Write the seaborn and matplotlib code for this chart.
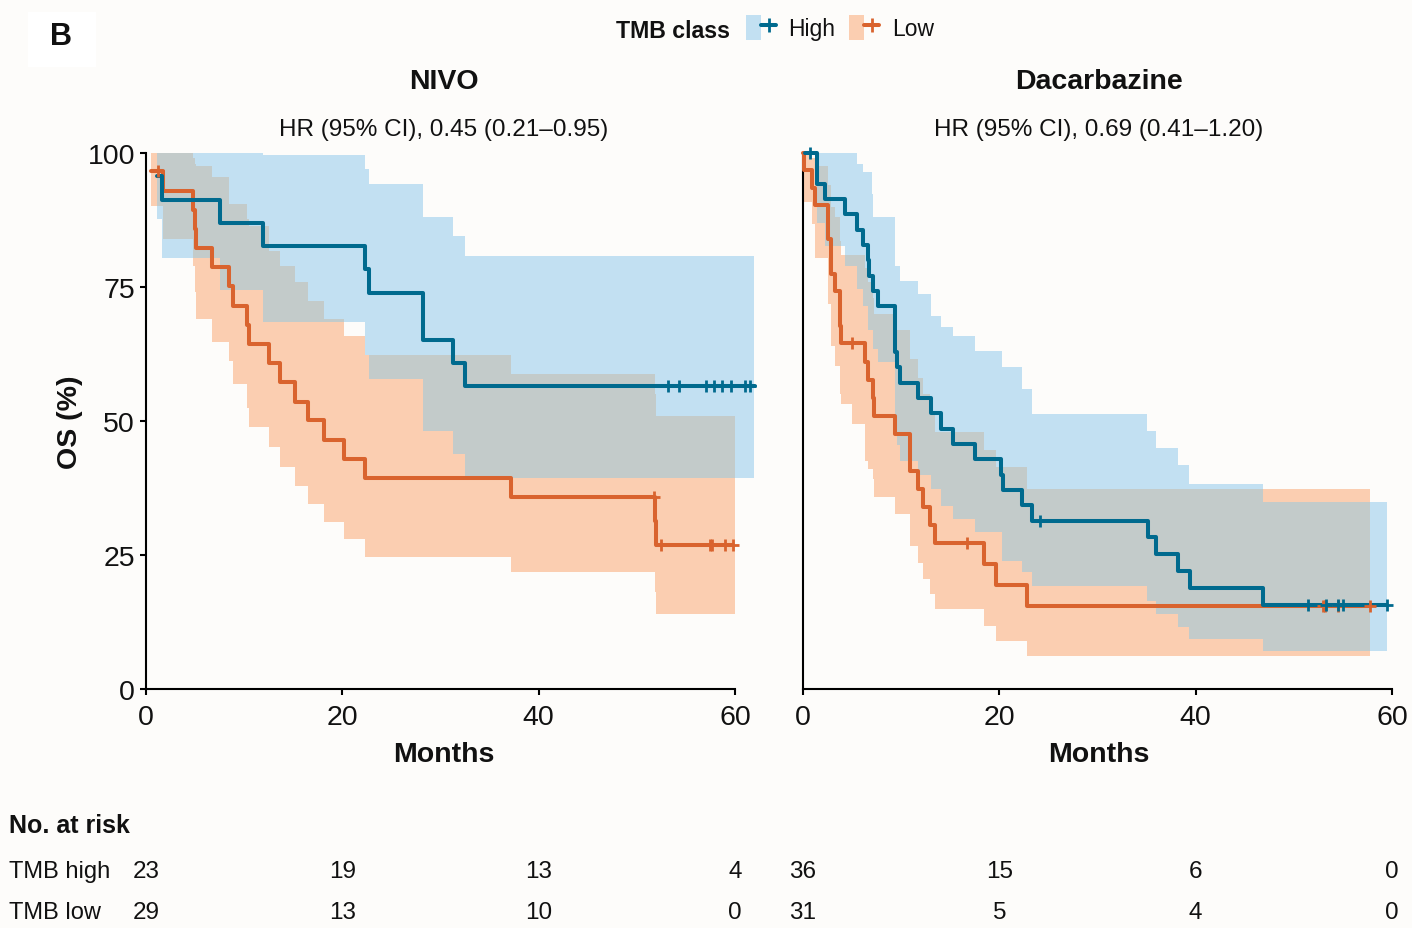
import numpy as np
import matplotlib
matplotlib.use("Agg")
import matplotlib.pyplot as plt
import seaborn as sns
from matplotlib.patches import Patch, Rectangle
from matplotlib.lines import Line2D
from matplotlib.legend_handler import HandlerTuple
from matplotlib.transforms import blended_transform_factory

# ---------------- Kaplan-Meier estimates (months, OS %) ----------------
# NIVO, TMB high
nivo_high_t = [1.1, 1.6, 7.5, 11.95, 22.3, 22.7, 28.2, 31.3, 32.5, 62.0]
nivo_high_s = [95.7, 91.3, 87.0, 82.6, 78.3, 73.9, 65.2, 60.9, 56.5, 56.5]
nivo_high_cens = [53.2, 54.3, 57.0, 57.9, 58.7, 59.6, 61.0, 61.5]
nivo_high_ci_t = [1.1, 1.6, 7.5, 11.95, 22.3, 22.7, 28.2, 31.3, 32.5, 61.9]
nivo_high_ci_lo = [87.7, 80.5, 74.5, 68.4, 62.3, 57.8, 48.2, 43.8, 39.4, 39.4]
nivo_high_ci_hi = [100, 100, 100, 99.6, 97.0, 94.2, 88.0, 84.6, 80.8, 80.8]

# NIVO, TMB low
nivo_low_t = [0.55, 1.7, 4.8, 4.95, 5.1, 6.7, 8.5, 8.9, 10.3, 10.45, 12.5,
              13.65, 15.2, 16.55, 18.1, 20.2, 22.3, 37.15, 51.8, 51.95, 59.8]
nivo_low_s = [96.6, 93.0, 89.4, 85.8, 82.2, 78.7, 75.1, 71.5, 67.9, 64.4, 60.8,
              57.2, 53.6, 50.1, 46.5, 42.9, 39.3, 35.8, 31.3, 26.8, 26.8]
nivo_low_cens = [1.2, 51.7, 52.5, 57.5, 57.7, 59.0, 59.8]
nivo_low_ci_t = [0.55, 1.7, 4.8, 4.95, 5.1, 6.7, 8.5, 8.9, 10.3, 10.45, 12.5,
                 13.65, 15.2, 16.55, 18.1, 20.2, 22.3, 37.15, 51.8, 51.95, 60.0]
nivo_low_ci_lo = [90.2, 83.9, 79.0, 74.0, 69.0, 64.7, 61.2, 56.9, 52.5, 48.8, 45.1,
                  41.4, 37.9, 34.5, 31.1, 28.0, 24.7, 21.8, 18.1, 14.0, 14.0]
nivo_low_ci_hi = [100, 100, 99.0, 98.0, 97.6, 95.5, 90.5, 90.5, 87.7, 86.4, 81.8,
                  79.0, 75.9, 72.4, 69.0, 65.9, 62.3, 58.8, 55.0, 51.0, 51.0]

# Dacarbazine, TMB high
dac_high_t = [0.2, 1.39, 2.24, 4.28, 5.55, 6.15, 6.6, 6.7, 7.16, 7.67, 9.37, 9.54,
              9.88, 11.75, 13.05, 14.1, 15.3, 17.5, 20.2, 20.4, 22.3, 23.3, 35.1,
              36.0, 38.2, 39.4, 46.9, 59.5]
dac_high_s = [100, 94.3, 91.4, 88.6, 85.7, 82.9, 80.0, 77.1, 74.3, 71.4, 62.9, 60.0,
              57.1, 54.3, 51.4, 48.6, 45.7, 42.9, 40.0, 37.1, 34.3, 31.4, 28.3,
              25.1, 22.0, 18.9, 15.7, 15.7]
dac_high_cens = [0.7, 24.1, 51.4, 53.3, 54.5, 55.0, 59.5]
dac_high_ci_t = [0.2, 1.39, 2.24, 4.28, 5.5, 6.15, 6.6, 7.0, 7.16, 7.67, 9.37, 9.54,
                 9.88, 11.75, 13.05, 14.1, 15.3, 17.5, 20.3, 22.3, 23.3, 35.0, 36.0,
                 38.2, 39.3, 46.9, 59.5]
dac_high_ci_lo = [100, 87.0, 82.7, 79.0, 74.6, 71.5, 67.0, 67.0, 63.4, 61.0, 48.5, 45.5,
                  42.6, 40.0, 37.3, 34.2, 31.7, 29.2, 23.9, 21.8, 19.3, 16.5, 14.0,
                  11.5, 9.3, 7.1, 7.1]
dac_high_ci_hi = [100, 100, 100, 100, 98.0, 96.4, 96.4, 92.4, 88.0, 88.0, 79.0, 79.0,
                  76.2, 73.7, 69.5, 67.5, 65.9, 63.1, 60.0, 56.0, 51.3, 48.1, 44.9,
                  41.7, 38.2, 34.8, 34.8]

# Dacarbazine, TMB low
dac_low_t = [0.0, 0.15, 0.88, 1.2, 2.58, 2.9, 3.26, 3.77, 3.9, 6.3, 6.6, 7.15, 7.25,
             9.4, 10.9, 11.75, 12.2, 12.9, 13.45, 18.4, 19.7, 22.8, 57.8]
dac_low_s = [100, 96.8, 93.5, 90.3, 83.9, 77.4, 74.2, 67.7, 64.5, 61.1, 57.7, 54.3, 50.9,
             47.5, 40.7, 37.4, 34.0, 30.6, 27.2, 23.3, 19.4, 15.5, 15.5]
dac_low_cens = [5.0, 16.7, 53.0, 53.2, 54.5, 57.8]
dac_low_ci_t = [0.15, 0.88, 1.2, 2.58, 2.9, 3.26, 3.77, 3.9, 5.0, 6.3, 6.6, 7.15, 7.25,
                9.4, 10.9, 11.75, 12.2, 12.9, 13.45, 18.4, 19.7, 22.8, 57.8]
dac_low_ci_lo = [90.8, 86.8, 80.5, 71.8, 64.0, 60.3, 55.0, 53.2, 49.4, 42.6, 41.0, 39.2,
                 35.8, 32.6, 26.7, 23.6, 20.5, 17.7, 14.9, 11.8, 9.0, 6.2, 6.2]
dac_low_ci_hi = [100, 99.0, 97.5, 94.0, 90.0, 88.0, 83.5, 81.0, 81.0, 78.5, 76.0, 73.0,
                 70.0, 67.0, 61.5, 58.0, 55.0, 51.5, 48.0, 44.5, 41.4, 37.3, 37.3]

# Numbers at risk
risk_months = [0, 20, 40, 60]
nivo_risk_high = [23, 19, 13, 4]
nivo_risk_low = [29, 13, 10, 0]
dac_risk_high = [36, 15, 6, 0]
dac_risk_low = [31, 5, 4, 0]

panel_titles = ["NIVO", "Dacarbazine"]
hr_labels = ["HR (95% CI), 0.45 (0.21\u20130.95)", "HR (95% CI), 0.69 (0.41\u20131.20)"]
group_labels = ["High", "Low"]
risk_row_labels = ["TMB high", "TMB low"]

# ---------------- style ----------------
sns.set_theme(style="ticks")
plt.rcParams["font.family"] = ["Liberation Sans", "DejaVu Sans"]
plt.rcParams["text.color"] = "#111111"

BG = "#fdfcfa"
INK = "#111111"
BLUE = "#006a8e"
ORANGE = "#d9632e"
LIGHT_BLUE = "#c2e0f2"
LIGHT_ORANGE = "#fbceb1"
OVERLAP = "#c3cbca"
LW = 2.9

W, H = 1412, 929
fig = plt.figure(figsize=(W / 100, H / 100), dpi=100, facecolor=BG)

PX_PER_MONTH = 9.817
TOP, BOTTOM = 154, 690


def add_axes_px(left, xmax):
    right = left + xmax * PX_PER_MONTH
    ax = fig.add_axes([left / W, 1 - BOTTOM / H, (right - left) / W, (BOTTOM - TOP) / H])
    ax.set_xlim(0, xmax)
    ax.set_ylim(0, 100)
    ax.set_facecolor("none")
    return ax


def step_lookup(t_pts, vals, x):
    t_pts = np.asarray(t_pts)
    vals = np.asarray(vals, dtype=float)
    idx = np.searchsorted(t_pts, x, side="right") - 1
    ok = (idx >= 0) & (np.asarray(x) < t_pts[-1])
    return vals[np.clip(idx, 0, None)], ok


def draw_panel(ax, high, low, high_ci, low_ci, high_cens, low_cens):
    # confidence bands
    for (bt, blo, bhi), col in ((high_ci, LIGHT_BLUE), (low_ci, LIGHT_ORANGE)):
        ax.fill_between(bt, blo, bhi, step="post", color=col, lw=0, zorder=1)
    # overlapping part of the two bands
    grid = np.union1d(high_ci[0], low_ci[0])
    hlo, hok = step_lookup(high_ci[0], high_ci[1], grid)
    hhi, _ = step_lookup(high_ci[0], high_ci[2], grid)
    llo, lok = step_lookup(low_ci[0], low_ci[1], grid)
    lhi, _ = step_lookup(low_ci[0], low_ci[2], grid)
    glo = np.maximum(hlo, llo)
    ghi = np.minimum(hhi, lhi)
    keep = hok & lok & (ghi > glo)
    ghi = np.where(keep, ghi, glo)
    ax.fill_between(grid, glo, ghi, step="post", color=OVERLAP, lw=0, zorder=2)

    # survival curves
    for (t, s), col in ((low, ORANGE), (high, BLUE)):
        sns.lineplot(x=t, y=s, ax=ax, color=col, lw=LW, drawstyle="steps-post",
                     estimator=None, sort=False, legend=False, zorder=3, clip_on=False)
    # censoring marks
    for (t, s), cens, col in ((low, low_cens, ORANGE), (high, high_cens, BLUE)):
        idx = np.searchsorted(t, cens, side="right") - 1
        ys = np.asarray(s)[idx]
        sns.scatterplot(x=cens, y=ys, ax=ax, marker="+", s=85, color=col,
                        linewidth=2.0, legend=False, zorder=4, clip_on=False)

    ax.set_xticks([0, 20, 40, 60])
    ax.set_yticks([0, 25, 50, 75, 100])
    ax.spines["left"].set_bounds(0, 100)
    ax.spines["bottom"].set_bounds(0, 60)
    for sp in ("left", "bottom"):
        ax.spines[sp].set_linewidth(1.5)
        ax.spines[sp].set_color("black")
    sns.despine(ax=ax)
    ax.tick_params(axis="both", length=4.5, width=1.5, color="black",
                   labelsize=20.5, labelcolor=INK)
    ax.tick_params(axis="x", pad=6)
    ax.tick_params(axis="y", pad=3.5)
    ax.set_xlabel("")
    ax.set_ylabel("")


ax1 = add_axes_px(146, 62.5)
draw_panel(ax1,
           (nivo_high_t, nivo_high_s), (nivo_low_t, nivo_low_s),
           (nivo_high_ci_t, nivo_high_ci_lo, nivo_high_ci_hi),
           (nivo_low_ci_t, nivo_low_ci_lo, nivo_low_ci_hi),
           nivo_high_cens, nivo_low_cens)

ax2 = add_axes_px(803, 61.0)
draw_panel(ax2,
           (dac_high_t, dac_high_s), (dac_low_t, dac_low_s),
           (dac_high_ci_t, dac_high_ci_lo, dac_high_ci_hi),
           (dac_low_ci_t, dac_low_ci_lo, dac_low_ci_hi),
           dac_high_cens, dac_low_cens)
ax2.tick_params(axis="y", left=False, labelleft=False)


def ftext(x, y, s, **kw):
    fig.text(x / W, 1 - y / H, s, **kw)


# panel letter
fig.patches.append(Rectangle((28 / W, 1 - 68 / H), 68 / W, 55 / H,
                             transform=fig.transFigure, facecolor="#ffffff",
                             edgecolor="none", zorder=0))
ftext(61, 37, "B", ha="center", va="center", fontsize=22, fontweight="bold")

# titles and hazard ratios
for cx, title, hr in ((444, panel_titles[0], hr_labels[0]),
                      (1099, panel_titles[1], hr_labels[1])):
    ftext(cx, 82, title, ha="center", va="center", fontsize=20.5, fontweight="bold")
    ftext(cx, 130, hr, ha="center", va="center", fontsize=17.5)
    ftext(cx, 755, "Months", ha="center", va="center", fontsize=20.5, fontweight="bold")

ftext(70, 422, "OS (%)", ha="center", va="center", rotation=90,
      fontsize=20.5, fontweight="bold")

# legend
ftext(616, 31, "TMB class", ha="left", va="center", fontsize=16.7, fontweight="bold")
handles = [
    (Patch(facecolor=LIGHT_BLUE, edgecolor="none"),
     Line2D([], [], color=BLUE, lw=LW, marker="+", ms=10, mew=2.0)),
    (Patch(facecolor=LIGHT_ORANGE, edgecolor="none"),
     Line2D([], [], color=ORANGE, lw=LW, marker="+", ms=10, mew=2.0)),
]
fig.legend(handles=handles, labels=group_labels, ncol=2, frameon=False,
           loc="upper left", bbox_to_anchor=(746 / W, 1 - 16 / H),
           handlelength=1.31, handleheight=1.31, handletextpad=0.55,
           columnspacing=0.6, borderpad=0, borderaxespad=0, fontsize=16.5,
           handler_map={tuple: HandlerTuple(ndivide=None)})

# numbers at risk
ftext(9, 826, "No. at risk", ha="left", va="center", fontsize=18, fontweight="bold")
ftext(9, 872, risk_row_labels[0], ha="left", va="center", fontsize=17)
ftext(9, 913, risk_row_labels[1], ha="left", va="center", fontsize=17)
for ax, hi_row, lo_row in ((ax1, nivo_risk_high, nivo_risk_low),
                           (ax2, dac_risk_high, dac_risk_low)):
    tr = blended_transform_factory(ax.transData, fig.transFigure)
    for m, a, b in zip(risk_months, hi_row, lo_row):
        ax.text(m, 1 - 872 / H, str(a), transform=tr, ha="center", va="center",
                fontsize=17.5, color=INK)
        ax.text(m, 1 - 913 / H, str(b), transform=tr, ha="center", va="center",
                fontsize=17.5, color=INK)

fig.savefig("out.png", dpi=100, facecolor=BG)
